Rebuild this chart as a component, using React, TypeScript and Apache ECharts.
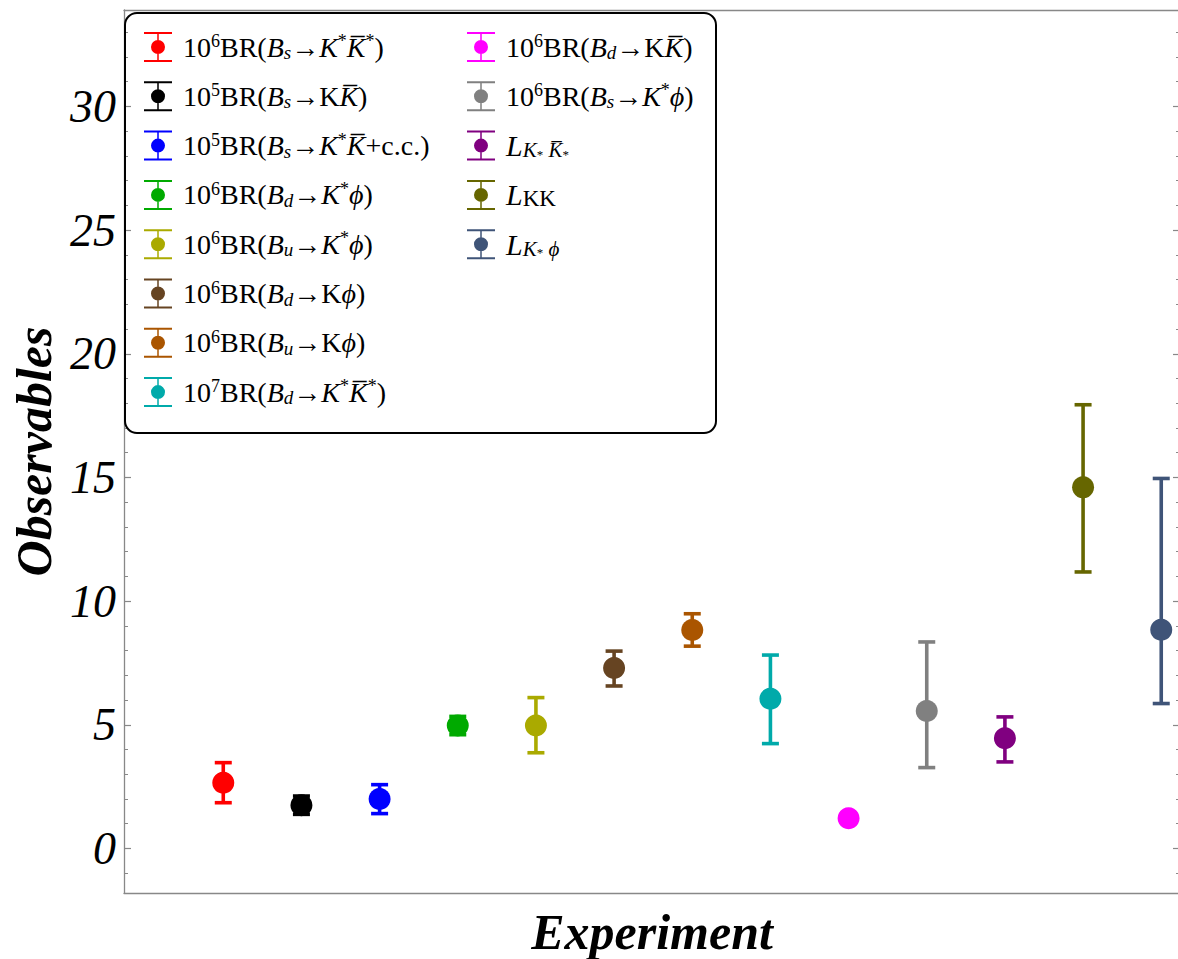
import React, { useEffect, useRef } from "react";
import * as echarts from "echarts";

const F = "Liberation Serif";

const seriesNames = [
  "10^6 BR(Bs→K*K̄*)",
  "10^5 BR(Bs→KK̄)",
  "10^5 BR(Bs→K*K̄+c.c.)",
  "10^6 BR(Bd→K*ϕ)",
  "10^6 BR(Bu→K*ϕ)",
  "10^6 BR(Bd→Kϕ)",
  "10^6 BR(Bu→Kϕ)",
  "10^7 BR(Bd→K*K̄*)",
  "10^6 BR(Bd→KK̄)",
  "10^6 BR(Bs→K*ϕ)",
  "L_K*K̄*",
  "L_KK",
  "L_K*ϕ",
];

const OB = "K\u0305";

const richLabels = [
  `{n|10}{sup|6}{n|BR(}{i|B}{sub|s}{n|→}{i|K}{sup|*}{i|${OB}}{sup|*}{n|)}`,
  `{n|10}{sup|5}{n|BR(}{i|B}{sub|s}{n|→K}{i|${OB}}{n|)}`,
  `{n|10}{sup|5}{n|BR(}{i|B}{sub|s}{n|→}{i|K}{sup|*}{i|${OB}}{n|+c.c.)}`,
  `{n|10}{sup|6}{n|BR(}{i|B}{sub|d}{n|→}{i|K}{sup|*}{i|ϕ}{n|)}`,
  `{n|10}{sup|6}{n|BR(}{i|B}{sub|u}{n|→}{i|K}{sup|*}{i|ϕ}{n|)}`,
  `{n|10}{sup|6}{n|BR(}{i|B}{sub|d}{n|→K}{i|ϕ}{n|)}`,
  `{n|10}{sup|6}{n|BR(}{i|B}{sub|u}{n|→K}{i|ϕ}{n|)}`,
  `{n|10}{sup|7}{n|BR(}{i|B}{sub|d}{n|→}{i|K}{sup|*}{i|${OB}}{sup|*}{n|)}`,
  `{n|10}{sup|6}{n|BR(}{i|B}{sub|d}{n|→K}{i|${OB}}{n|)}`,
  `{n|10}{sup|6}{n|BR(}{i|B}{sub|s}{n|→}{i|K}{sup|*}{i|ϕ}{n|)}`,
  `{L|L}{lsub|K}{ssup|*}{lsub| ${OB}}{ssup|*}`,
  `{L|L}{subn|KK}`,
  `{L|L}{lsub|K}{ssup|*}{lsub| ϕ}`,
];

const colors = [
  "#ff0000",
  "#000000",
  "#0000ff",
  "#00aa00",
  "#aaaa00",
  "#664422",
  "#aa5500",
  "#00aaaa",
  "#ff00ff",
  "#808080",
  "#800080",
  "#666600",
  "#3f5478",
];

const xIndex = [1, 2, 3, 4, 5, 6, 7, 8, 9, 10, 11, 12, 13];
const centers = [2.66, 1.75, 2.0, 4.97, 4.97, 7.3, 8.83, 6.05, 1.22, 5.56, 4.46, 14.6, 8.84];
const lows = [1.85, 1.38, 1.41, 4.6, 3.87, 6.57, 8.18, 4.24, 1.02, 3.27, 3.5, 11.18, 5.86];
const highs = [3.47, 2.12, 2.58, 5.34, 6.1, 7.98, 9.49, 7.82, 1.42, 8.35, 5.32, 17.94, 14.96];

const majorTicks = [0, 5, 10, 15, 20, 25, 30];
const minorTicks = [-1, 1, 2, 3, 4, 6, 7, 8, 9, 11, 12, 13, 14, 16, 17, 18, 19, 21, 22, 23, 24, 26, 27, 28, 29, 31, 32, 33];

const Y_MIN = -1.8;
const Y_MAX = 33.9;
const X_MIN = -0.27;
const X_MAX = 13.24;

const ICON =
  "path://M0 0H28V2H0Z M0 28H28V30H0Z M13.25 2H14.75V28H13.25Z M7 15A7 7 0 1 1 21 15A7 7 0 1 1 7 15Z";

const FRAME = "#888888";

export default function App() {
  const ref = useRef<HTMLDivElement>(null);

  useEffect(() => {
    const chart = echarts.init(ref.current!, null, { renderer: "svg" });

    const rich: any = {
      n: { fontFamily: F, fontSize: 28, lineHeight: 30, color: "#000" },
      i: { fontFamily: F, fontSize: 28, lineHeight: 30, fontStyle: "italic", color: "#000" },
      L: { fontFamily: F, fontSize: 30, lineHeight: 30, fontStyle: "italic", color: "#000" },
      sup: { fontFamily: F, fontSize: 18, lineHeight: 16, verticalAlign: "top", color: "#000" },
      sub: { fontFamily: F, fontSize: 19, lineHeight: 12, fontStyle: "italic", verticalAlign: "bottom", color: "#000" },
      lsub: { fontFamily: F, fontSize: 21, lineHeight: 12, fontStyle: "italic", verticalAlign: "bottom", color: "#000" },
      subn: { fontFamily: F, fontSize: 23, lineHeight: 18, verticalAlign: "bottom", color: "#000" },
      ssup: { fontFamily: F, fontSize: 13, lineHeight: 24, verticalAlign: "bottom", color: "#000" },
    };

    const legendBase = {
      orient: "vertical",
      itemGap: 19.3,
      itemWidth: 40,
      itemHeight: 30,
      padding: 0,
      selectedMode: false,
      formatter: (name: string) => richLabels[seriesNames.indexOf(name)],
      textStyle: { fontFamily: F, fontSize: 28, color: "#000", rich },
    };

    const series = seriesNames.map((name, k) => ({
      type: "custom",
      name,
      xAxisIndex: 0,
      yAxisIndex: 0,
      itemStyle: { color: colors[k] },
      encode: { x: 0, y: 1 },
      data: [[xIndex[k], centers[k], lows[k], highs[k]]],
      renderItem: (params: any, api: any) => {
        const x = api.value(0);
        const pc = api.coord([x, api.value(1)]);
        const pl = api.coord([x, api.value(2)]);
        const ph = api.coord([x, api.value(3)]);
        const c = colors[k];
        const lw = 3.6;
        const hw = 8.5;
        return {
          type: "group",
          children: [
            { type: "line", shape: { x1: pc[0], y1: ph[1], x2: pc[0], y2: pl[1] }, style: { stroke: c, lineWidth: lw } },
            { type: "line", shape: { x1: pc[0] - hw, y1: ph[1], x2: pc[0] + hw, y2: ph[1] }, style: { stroke: c, lineWidth: lw } },
            { type: "line", shape: { x1: pc[0] - hw, y1: pl[1], x2: pc[0] + hw, y2: pl[1] }, style: { stroke: c, lineWidth: lw } },
            { type: "circle", shape: { cx: pc[0], cy: pc[1], r: 11 }, style: { fill: c } },
          ],
        };
      },
    }));

    const yCommon = { type: "value", min: Y_MIN, max: Y_MAX, offset: 0, splitLine: { show: false } };

    const option: any = {
      animation: false,
      backgroundColor: "#fff",
      grid: { left: 124, right: -2, top: 10, bottom: 66, containLabel: false, outerBoundsMode: "none" },
      xAxis: [
        {
          type: "value",
          min: X_MIN,
          max: X_MAX,
          position: "bottom",
          axisLine: { show: true, onZero: false, lineStyle: { color: FRAME, width: 1.3 } },
          axisTick: { show: false },
          axisLabel: { show: false },
          splitLine: { show: false },
          name: "Experiment",
          nameLocation: "middle",
          nameGap: 14,
          nameTextStyle: {
            fontFamily: F,
            fontStyle: "italic",
            fontWeight: "bold",
            fontSize: 50,
            color: "#000",
            verticalAlign: "top",
          },
        },
        {
          type: "value",
          min: X_MIN,
          max: X_MAX,
          position: "top",
          axisLine: { show: true, onZero: false, lineStyle: { color: FRAME, width: 1.3 } },
          axisTick: { show: false },
          axisLabel: { show: false },
          splitLine: { show: false },
        },
      ],
      yAxis: [
        {
          ...yCommon,
          position: "left",
          axisLine: { show: true, onZero: false, lineStyle: { color: FRAME, width: 1.3 } },
          axisTick: { show: true, inside: true, length: 7, customValues: majorTicks, lineStyle: { color: FRAME, width: 1.2 } },
          axisLabel: {
            customValues: majorTicks,
            margin: 8,
            fontFamily: F,
            fontStyle: "italic",
            fontSize: 46,
            color: "#000",
          },
          name: "Observables",
          nameLocation: "middle",
          nameGap: 46,
          nameRotate: 90,
          nameTextStyle: {
            fontFamily: F,
            fontStyle: "italic",
            fontWeight: "bold",
            fontSize: 50,
            color: "#000",
          },
        },
        {
          ...yCommon,
          position: "left",
          axisLine: { show: false, onZero: false },
          axisTick: { show: true, inside: true, length: 4, customValues: minorTicks, lineStyle: { color: FRAME, width: 1 } },
          axisLabel: { show: false },
        },
        {
          ...yCommon,
          position: "right",
          axisLine: { show: true, onZero: false, lineStyle: { color: FRAME, width: 1.3 } },
          axisTick: { show: true, inside: true, length: 7, customValues: majorTicks, lineStyle: { color: FRAME, width: 1.2 } },
          axisLabel: { show: false },
        },
        {
          ...yCommon,
          position: "right",
          axisLine: { show: false, onZero: false },
          axisTick: { show: true, inside: true, length: 4, customValues: minorTicks, lineStyle: { color: FRAME, width: 1 } },
          axisLabel: { show: false },
        },
      ],
      legend: [
        {
          ...legendBase,
          left: 144,
          top: 32,
          data: seriesNames.slice(0, 8).map((name) => ({ name, icon: ICON })),
        },
        {
          ...legendBase,
          left: 467,
          top: 32,
          data: seriesNames.slice(8).map((name) => ({ name, icon: ICON })),
        },
      ],
      graphic: [
        {
          type: "rect",
          left: 124,
          top: 12,
          shape: { width: 591, height: 420, r: 12 },
          style: { fill: "transparent", stroke: "#000", lineWidth: 2 },
          z: 100,
        },
      ],
      series,
    };

    chart.setOption(option);
    return () => chart.dispose();
  }, []);

  return (
    <div
      ref={ref}
      style={{ position: "fixed", left: 0, top: 0, width: 1178, height: 959, background: "#fff" }}
    />
  );
}
